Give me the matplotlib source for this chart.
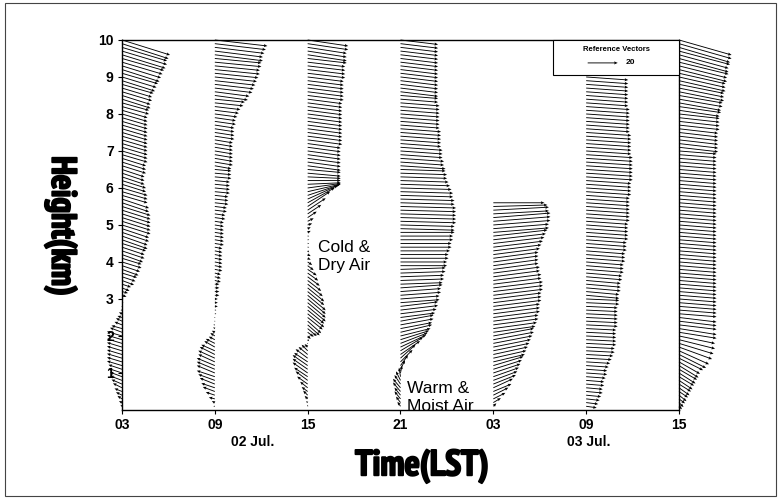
import numpy as np
import matplotlib.pyplot as plt
import matplotlib.patheffects as pe
from matplotlib import font_manager as fm
from matplotlib.patches import Rectangle

# launch times in hours after 03 LST 02 Jul.
launch_hr = [0, 6, 12, 18, 24, 30, 36]
tick_labels = ['03', '09', '15', '21', '03', '09', '15']
day_labels = ['02 Jul.', '03 Jul.']

# wind components (m/s), levels start at 0.1 km, every 0.1 km upward
u_02_03 = [-1, -2, -3, -4, -5, -6, -7, -8, -8, -9,
           -9, -10, -10, -10, -10, -10, -10, -10, -10, -10,
           -8, -7, -5, -4, -3, -2, -1, 0, 1, 1,
           3, 4, 5, 6, 8, 9, 10, 11, 12, 13,
           13, 14, 15, 15, 16, 17, 17, 18, 18, 19,
           19, 19, 19, 19, 19, 18, 18, 17, 17, 17,
           16, 16, 15, 15, 15, 16, 16, 16, 17, 17,
           17, 17, 17, 17, 17, 17, 17, 17, 17, 17,
           17, 18, 18, 19, 19, 20, 20, 21, 22, 23,
           24, 25, 26, 27, 28, 29, 30, 30, 31, 32]
v_02_03 = [1, 1, 2, 2, 2, 3, 3, 3, 3, 3,
           3, 3, 3, 3, 3, 3, 3, 3, 3, 3,
           3, 2, 2, 2, 1, 1, 0, 0, 0, 0,
           -1, -1, -2, -2, -3, -3, -3, -4, -4, -4,
           -4, -5, -5, -5, -5, -6, -6, -6, -6, -6,
           -6, -6, -6, -6, -6, -6, -6, -5, -5, -5,
           -5, -5, -5, -5, -5, -5, -5, -5, -5, -5,
           -5, -5, -5, -5, -5, -5, -5, -5, -5, -5,
           -5, -5, -5, -6, -6, -6, -6, -6, -7, -7,
           -7, -8, -8, -8, -8, -9, -9, -9, -10, -10]

u_02_09 = [-1, -2, -4, -6, -8, -9, -10, -11, -12, -12,
           -12, -12, -11, -11, -10, -9, -7, -6, -4, -3,
           -2, -1, -1, 0, 0, 1, 1, 2, 2, 2,
           3, 3, 3, 3, 4, 4, 4, 5, 5, 5,
           5, 5, 5, 5, 6, 6, 6, 6, 6, 6,
           6, 7, 7, 8, 8, 9, 9, 9, 10, 10,
           10, 10, 11, 11, 11, 11, 12, 12, 12, 12,
           12, 12, 12, 13, 13, 13, 13, 14, 14, 15,
           16, 17, 19, 20, 22, 23, 25, 26, 27, 28,
           29, 30, 30, 31, 31, 32, 32, 33, 34, 35]
v_02_09 = [0, 1, 1, 2, 3, 3, 4, 4, 4, 5,
           5, 5, 5, 5, 5, 4, 4, 3, 2, 2,
           1, 1, 0, 0, 0, 0, 0, 0, 0, 0,
           0, 0, 0, 0, -1, -1, -1, -1, -1, -1,
           -1, -1, -1, -1, -1, -1, -1, -1, -1, -1,
           -1, -1, -1, -1, -1, -1, -1, -1, -1, -1,
           -1, -1, -1, -1, -1, -2, -2, -2, -2, -2,
           -2, -2, -2, -2, -2, -2, -2, -2, -2, -2,
           -2, -2, -2, -2, -3, -3, -3, -3, -3, -3,
           -3, -3, -3, -3, -3, -4, -4, -4, -4, -4]

u_02_15 = [0, -1, -2, -3, -4, -5, -7, -8, -9, -10,
           -10, -10, -9, -8, -6, -4, -2, 0, 1, 2,
           4, 6, 8, 9, 10, 11, 11, 12, 12, 12,
           12, 11, 11, 10, 9, 8, 7, 6, 4, 3,
           2, 2, 1, 1, 1, 1, 1, 2, 2, 3,
           4, 6, 9, 12, 15, 18, 20, 21, 22, 22,
           22, 22, 22, 22, 22, 22, 22, 22, 22, 22,
           22, 22, 23, 23, 23, 23, 23, 23, 23, 23,
           23, 23, 23, 23, 24, 24, 24, 24, 24, 24,
           25, 25, 25, 25, 26, 26, 26, 26, 27, 27]
v_02_15 = [1, 1, 2, 3, 3, 4, 5, 6, 6, 7,
           7, 7, 6, 6, 5, 4, 2, 0, -1, -2,
           -3, -5, -7, -8, -8, -9, -9, -10, -10, -10,
           -10, -9, -9, -8, -7, -6, -5, -4, -3, -2,
           -1, -1, -1, 0, 0, 0, 0, 1, 1, 1,
           2, 4, 6, 8, 10, 10, 9, 7, 5, 3,
           1, 0, -1, -2, -2, -3, -3, -3, -3, -3,
           -3, -3, -3, -3, -3, -3, -3, -3, -3, -3,
           -3, -3, -3, -3, -3, -3, -3, -3, -3, -3,
           -3, -3, -3, -3, -3, -4, -4, -4, -4, -4]

u_02_21 = [-2, -3, -4, -4, -5, -5, -4, -3, -1, 1,
           3, 5, 8, 10, 13, 15, 17, 18, 19, 20,
           21, 21, 22, 22, 23, 24, 25, 25, 26, 26,
           27, 27, 28, 28, 29, 29, 30, 30, 31, 31,
           32, 32, 33, 34, 34, 35, 35, 36, 36, 36,
           37, 37, 37, 37, 37, 36, 36, 35, 35, 34,
           33, 32, 31, 31, 30, 30, 29, 29, 28, 28,
           28, 27, 27, 27, 27, 27, 26, 26, 26, 26,
           26, 26, 26, 25, 25, 25, 25, 25, 25, 25,
           25, 25, 25, 25, 25, 25, 25, 25, 25, 25]
v_02_21 = [3, 4, 5, 5, 6, 6, 6, 6, 6, 5,
           6, 7, 8, 9, 9, 9, 8, 7, 6, 5,
           5, 4, 4, 4, 3, 3, 3, 3, 2, 2,
           2, 2, 2, 1, 1, 1, 1, 1, 0, 0,
           0, 0, 0, 0, 0, 0, 0, 0, -1, -1,
           -1, -1, -1, -1, -1, -1, -1, -1, -1, -1,
           -1, -1, -1, -1, -1, -2, -2, -2, -2, -2,
           -2, -2, -2, -2, -2, -2, -2, -2, -2, -2,
           -2, -2, -2, -2, -2, -3, -3, -3, -3, -3,
           -3, -3, -3, -3, -3, -3, -3, -3, -3, -3]

u_03_03 = [2, 5, 8, 10, 12, 13, 15, 16, 17, 18,
           19, 20, 21, 22, 23, 24, 25, 26, 27, 27,
           28, 29, 30, 30, 31, 31, 31, 32, 32, 32,
           33, 33, 33, 32, 32, 31, 31, 30, 30, 30,
           30, 31, 32, 33, 34, 35, 36, 37, 37, 38,
           38, 38, 37, 37, 36, 34]
v_03_03 = [2, 3, 4, 5, 5, 6, 6, 6, 6, 6,
           6, 6, 5, 5, 5, 5, 5, 5, 5, 5,
           4, 4, 4, 4, 4, 4, 4, 4, 4, 4,
           4, 4, 4, 4, 4, 4, 4, 4, 4, 4,
           4, 4, 4, 4, 4, 4, 4, 3, 3, 3,
           3, 3, 2, 2, 1, 0]

u_03_09 = [7, 8, 9, 10, 11, 11, 12, 12, 13, 14,
           14, 15, 16, 17, 18, 19, 19, 20, 20, 20,
           20, 20, 21, 21, 21, 21, 21, 21, 22, 22,
           22, 22, 23, 23, 23, 24, 24, 25, 25, 25,
           26, 26, 26, 27, 27, 27, 28, 28, 28, 28,
           28, 29, 29, 29, 29, 29, 29, 29, 30, 30,
           30, 30, 31, 31, 31, 31, 31, 31, 31, 30,
           30, 30, 30, 30, 30, 29, 29, 29, 29, 29,
           29, 29, 28, 28, 28, 28, 28, 28, 28, 28]
v_03_09 = [-1, -1, -1, -1, -1, -1, -1, -1, -1, -1,
           -1, -1, -1, -1, -1, -1, -1, -1, -1, -1,
           -1, -1, -1, -1, -1, -1, -1, -1, -1, -1,
           -2, -2, -2, -2, -2, -2, -2, -2, -2, -2,
           -2, -2, -2, -2, -2, -2, -2, -2, -2, -2,
           -2, -2, -2, -2, -2, -2, -2, -2, -2, -2,
           -2, -2, -2, -2, -2, -2, -2, -2, -2, -2,
           -2, -2, -2, -2, -2, -2, -2, -2, -2, -2,
           -2, -2, -2, -2, -2, -2, -2, -2, -2, -2]

u_03_15 = [2, 3, 4, 5, 6, 7, 8, 9, 10, 11,
           12, 13, 14, 16, 18, 20, 22, 23, 24, 24,
           25, 25, 25, 25, 25, 25, 25, 25, 25, 25,
           25, 25, 25, 25, 25, 25, 25, 25, 25, 25,
           25, 25, 25, 25, 25, 25, 25, 25, 25, 25,
           25, 25, 25, 25, 25, 25, 25, 25, 25, 25,
           25, 25, 25, 25, 25, 25, 25, 25, 25, 25,
           26, 26, 26, 26, 26, 26, 27, 27, 27, 27,
           27, 28, 28, 29, 29, 30, 30, 30, 31, 31,
           31, 32, 32, 33, 33, 33, 34, 34, 35, 35]
v_03_15 = [-2, -3, -3, -4, -4, -5, -5, -6, -6, -7,
           -7, -8, -8, -8, -9, -9, -8, -7, -6, -5,
           -4, -4, -3, -3, -3, -2, -2, -2, -2, -2,
           -2, -2, -2, -2, -2, -2, -2, -2, -2, -2,
           -2, -2, -2, -2, -2, -2, -2, -2, -2, -2,
           -2, -2, -2, -2, -2, -2, -2, -2, -2, -2,
           -2, -2, -2, -2, -2, -2, -2, -2, -2, -2,
           -3, -3, -3, -3, -3, -3, -3, -3, -3, -3,
           -4, -4, -5, -5, -5, -6, -6, -6, -7, -7,
           -7, -8, -8, -8, -9, -9, -9, -10, -10, -10]

profiles = [(u_02_03, v_02_03), (u_02_09, v_02_09), (u_02_15, v_02_15),
            (u_02_21, v_02_21), (u_03_03, v_03_03), (u_03_09, v_03_09),
            (u_03_15, v_03_15)]
levels = np.arange(1, 101) / 10.0  # km

ref_speed = 20


def narrow_bold_font(width_px):
    """Narrow bold face for the axis titles; size chosen so 'Time(LST)' is ~width_px wide."""
    fonts = fm.fontManager.ttflist
    is_bold = lambda f: f.weight in ('bold', 700, 800, 900, 'heavy', 'black') or 'Bold' in f.fname
    narrow = [f for f in fonts if 'Narrow' in f.name and is_bold(f)]
    cond = [f for f in fonts if ('Condensed' in f.name or f.stretch in ('condensed', 'semi-condensed'))
            and is_bold(f)]
    if narrow:
        return fm.FontProperties(fname=narrow[0].fname, size=26 * width_px / 145)
    if cond:
        return fm.FontProperties(fname=cond[0].fname, size=25 * width_px / 177)
    return fm.FontProperties(family='Liberation Sans', weight='bold', size=19 * width_px / 145)


fig = plt.figure(figsize=(7.81, 4.99), dpi=100)
ax = fig.add_axes([0.1562, 0.1784, 0.7132, 0.7415])

q = None
for t, (u, v) in zip(launch_hr, profiles):
    h = levels[:len(u)]
    q = ax.quiver(np.full(len(u), t), h, u, v, angles='uv', scale_units='x',
                  scale=10.3, width=0.0016, headwidth=3.5, headlength=4,
                  headaxislength=3.5, color='black', zorder=2, clip_on=False)

ax.set_xlim(0, 36)
ax.set_ylim(0, 10)
ax.set_xticks(launch_hr)
ax.set_xticklabels(tick_labels)
ax.set_yticks(range(1, 11))
ax.set_yticklabels([str(i) for i in range(1, 11)])
ax.tick_params(direction='out', length=3, width=0.8, pad=3)
for lab in ax.get_xticklabels() + ax.get_yticklabels():
    lab.set_fontfamily('Liberation Sans')
    lab.set_fontweight('bold')
    lab.set_fontsize(10)
for s in ax.spines.values():
    s.set_linewidth(1.0)

# day labels under the tick labels
ax.text(0.235, -0.087, day_labels[0], transform=ax.transAxes, ha='center', va='center',
        fontfamily='Liberation Sans', fontweight='bold', fontsize=10)
ax.text(0.838, -0.087, day_labels[1], transform=ax.transAxes, ha='center', va='center',
        fontfamily='Liberation Sans', fontweight='bold', fontsize=10)

thick = [pe.withStroke(linewidth=1.4, foreground='black')]
fig.text(0.540, 0.066, 'Time(LST)', ha='center', va='center',
         fontproperties=narrow_bold_font(145), path_effects=thick)
fig.text(0.078, 0.547, 'Height(km)', ha='center', va='center', rotation=270,
         fontproperties=narrow_bold_font(140), path_effects=thick)

# annotations
ax.text(12.7, 4.15, 'Cold &\nDry Air', ha='left', va='center', fontsize=12.5,
        fontfamily='Liberation Sans', linespacing=1.25, zorder=4)
ax.text(18.45, 0.34, 'Warm &\nMoist Air', ha='left', va='center', fontsize=12.5,
        fontfamily='Liberation Sans', linespacing=1.2, zorder=4)

# reference vector box
ax.add_patch(Rectangle((0.774, 0.905), 0.226, 0.095, transform=ax.transAxes,
                       facecolor='white', edgecolor='black', lw=0.8, zorder=5,
                       clip_on=False))
ax.text(0.887, 0.975, 'Reference Vectors', transform=ax.transAxes, ha='center',
        va='center', fontsize=5.5, fontweight='bold', fontfamily='Liberation Sans',
        zorder=6)
ax.quiverkey(q, 0.890, 0.938, ref_speed, str(ref_speed), labelpos='E',
             coordinates='axes', labelsep=0.08, zorder=6,
             fontproperties={'size': 6, 'weight': 'bold', 'family': 'Liberation Sans'})

# scan frame
fig.add_artist(Rectangle((0.006, 0.006), 0.988, 0.988, transform=fig.transFigure,
                         fill=False, lw=0.8, ec='#444444'))

fig.savefig('out.png', dpi=100)
